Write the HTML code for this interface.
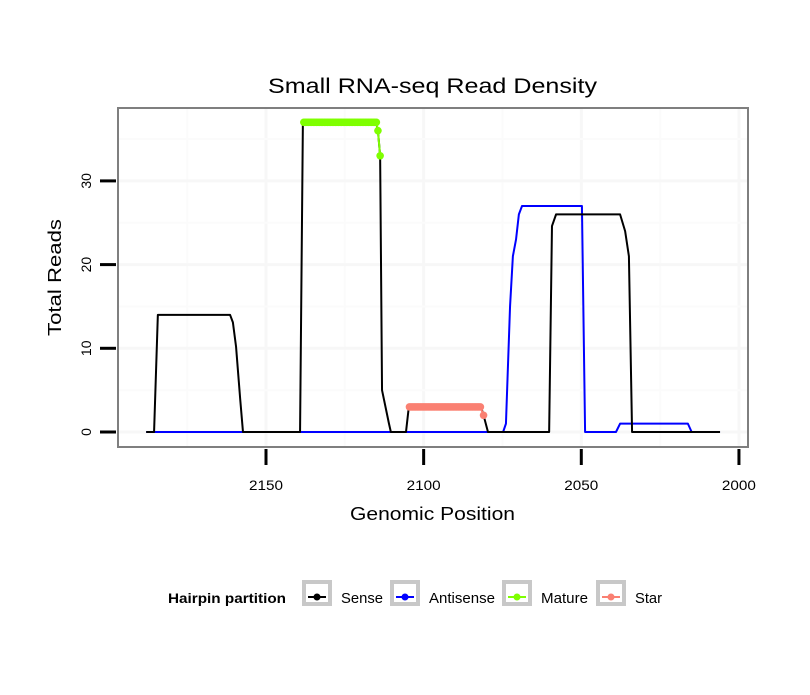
<!DOCTYPE html>
<html><head><meta charset="utf-8"><style>
body{margin:0;background:#fff}
svg text{font-family:"Liberation Sans",sans-serif}
</style></head><body>
<svg id="chart" width="810" height="690" xmlns="http://www.w3.org/2000/svg">
<rect width="810" height="690" fill="#fff"/>
<text x="268" y="93" font-size="21" textLength="329" lengthAdjust="spacingAndGlyphs">Small RNA-seq Read Density</text>
<rect x="118" y="108" width="630" height="339" fill="#fff"/>
<g id="grid"></g>
<g id="series"></g>
<rect x="118" y="108" width="630" height="339" fill="none" stroke="#7f7f7f" stroke-width="2"/>
<g id="axes"></g>
<text x="350" y="520" font-size="18" textLength="165" lengthAdjust="spacingAndGlyphs">Genomic Position</text>
<text transform="translate(61,336) rotate(-90)" font-size="18" textLength="117" lengthAdjust="spacingAndGlyphs">Total Reads</text>
<g>
<text x="168" y="603" font-size="14" font-weight="bold" textLength="118" lengthAdjust="spacingAndGlyphs">Hairpin partition</text>
<g><rect x="304" y="582" width="26" height="22" fill="#fff" stroke="#c8c8c8" stroke-width="4"/><line x1="308" x2="326" y1="597" y2="597" stroke="#000" stroke-width="2"/><circle cx="317" cy="597" r="3.5" fill="#000"/><text x="341" y="603" font-size="15" textLength="42" lengthAdjust="spacingAndGlyphs">Sense</text></g>
<g><rect x="392" y="582" width="26" height="22" fill="#fff" stroke="#c8c8c8" stroke-width="4"/><line x1="396" x2="414" y1="597" y2="597" stroke="#0000ff" stroke-width="2"/><circle cx="405" cy="597" r="3.5" fill="#0000ff"/><text x="429" y="603" font-size="15" textLength="66" lengthAdjust="spacingAndGlyphs">Antisense</text></g>
<g><rect x="504" y="582" width="26" height="22" fill="#fff" stroke="#c8c8c8" stroke-width="4"/><line x1="508" x2="526" y1="597" y2="597" stroke="#7fff00" stroke-width="2"/><circle cx="517" cy="597" r="3.5" fill="#7fff00"/><text x="541" y="603" font-size="15" textLength="47" lengthAdjust="spacingAndGlyphs">Mature</text></g>
<g><rect x="598" y="582" width="26" height="22" fill="#fff" stroke="#c8c8c8" stroke-width="4"/><line x1="602" x2="620" y1="597" y2="597" stroke="#fa8072" stroke-width="2"/><circle cx="611" cy="597" r="3.5" fill="#fa8072"/><text x="635" y="603" font-size="15" textLength="27" lengthAdjust="spacingAndGlyphs">Star</text></g>
</g>
</svg>
<script>
const xTicks=[2150,2100,2050,2000];
const yTicks=[0,10,20,30];
const senseX=[2188,2185.5,2184.3,2161.4,2160.5,2159.5,2158.2,2157.3,2139.2,2138.3,2115.1,2114.5,2113.8,2113.2,2111,2110.4,2105.6,2104.7,2081.8,2081,2079.6,2060.2,2059.3,2058,2037.7,2036.1,2034.9,2033.9,2006];
const senseY=[0,0,14,14,13.1,10.2,4,0,0,37,37,36,33,5,1,0,0,3,3,2,0,0,24.6,26,26,24,21,0,0];
const antiX=[2188,2074.8,2073.9,2072.6,2071.7,2070.7,2069.8,2068.8,2049.8,2048.8,2039,2037.7,2016.2,2015,2006];
const antiY=[0,0,1,15,21,23,26,27,27,0,0,1,1,0,0];
const matureX=[2138,2137.5,2137,2136.5,2136,2135.5,2135,2134.5,2134,2133.5,2133,2132.5,2132,2131.5,2131,2130.5,2130,2129.5,2129,2128.5,2128,2127.5,2127,2126.5,2126,2125.5,2125,2124.5,2124,2123.5,2123,2122.5,2122,2121.5,2121,2120.5,2120,2119.5,2119,2118.5,2118,2117.5,2117,2116.5,2116,2115.5,2115,2114.5,2113.8];
const matureY=[37,37,37,37,37,37,37,37,37,37,37,37,37,37,37,37,37,37,37,37,37,37,37,37,37,37,37,37,37,37,37,37,37,37,37,37,37,37,37,37,37,37,37,37,37,37,37,36,33];
const starX=[2104.5,2104,2103.5,2103,2102.5,2102,2101.5,2101,2100.5,2100,2099.5,2099,2098.5,2098,2097.5,2097,2096.5,2096,2095.5,2095,2094.5,2094,2093.5,2093,2092.5,2092,2091.5,2091,2090.5,2090,2089.5,2089,2088.5,2088,2087.5,2087,2086.5,2086,2085.5,2085,2084.5,2084,2083.5,2083,2082.5,2082,2081];
const starY=[3,3,3,3,3,3,3,3,3,3,3,3,3,3,3,3,3,3,3,3,3,3,3,3,3,3,3,3,3,3,3,3,3,3,3,3,3,3,3,3,3,3,3,3,3,3,2];
const NS='http://www.w3.org/2000/svg';
const sx=v=>266+(2150-v)*3.153;
const sy=v=>432-v*8.37;
function mk(t,a,p){const e=document.createElementNS(NS,t);for(const k in a)e.setAttribute(k,a[k]);p.appendChild(e);return e;}
const grid=document.getElementById('grid'),ser=document.getElementById('series'),ax=document.getElementById('axes');
[2175,2125,2075,2025].forEach(v=>{const l=mk('line',{x1:sx(v),x2:sx(v),y1:109,y2:446,stroke:'#fbfbfb','stroke-width':2},grid);

});
xTicks.forEach(v=>{const l=mk('line',{x1:sx(v),x2:sx(v),y1:109,y2:446,stroke:'#f7f7f7','stroke-width':3},grid);


const t=mk('line',{x1:sx(v),x2:sx(v),y1:449,y2:465,stroke:'#000','stroke-width':3},ax);


const tx=mk('text',{x:sx(v)-17,y:490,'font-size':14,textLength:34,lengthAdjust:'spacingAndGlyphs'},ax);tx.textContent=v;

});
[5,15,25,35].forEach(v=>{const l=mk('line',{x1:119,x2:747,y1:sy(v),y2:sy(v),stroke:'#fbfbfb','stroke-width':2},grid);

});
yTicks.forEach(v=>{const l=mk('line',{x1:119,x2:747,y1:sy(v),y2:sy(v),stroke:'#f7f7f7','stroke-width':3},grid);


const t=mk('line',{x1:100,x2:116,y1:sy(v),y2:sy(v),stroke:'#000','stroke-width':3},ax);


const tx=mk('text',{x:0,y:0,'font-size':14,'text-anchor':'middle',transform:`translate(91,${sy(v)}) rotate(-90)`},ax);tx.textContent=v;

});
function line(X,Y,c,w,name){const p=mk('polyline',{points:X.map((x,i)=>sx(x)+','+sy(Y[i])).join(' '),fill:'none',stroke:c,'stroke-width':w,'stroke-linejoin':'round'},ser);

}
line(antiX,antiY,'#0000ff',2,'antisense-line');
line(senseX,senseY,'#000',2,'sense-line');
line(matureX,matureY,'#7fff00',2,'mature-line');
line(starX,starY,'#fa8072',2,'star-line');
function pts(X,Y,c,name){X.forEach((x,i)=>{const e=mk('circle',{cx:sx(x),cy:sy(Y[i]),r:3.8,fill:c},ser);

});}
pts(matureX,matureY,'#7fff00','mature-point');
pts(starX,starY,'#fa8072','star-point');
</script>
</body></html>
